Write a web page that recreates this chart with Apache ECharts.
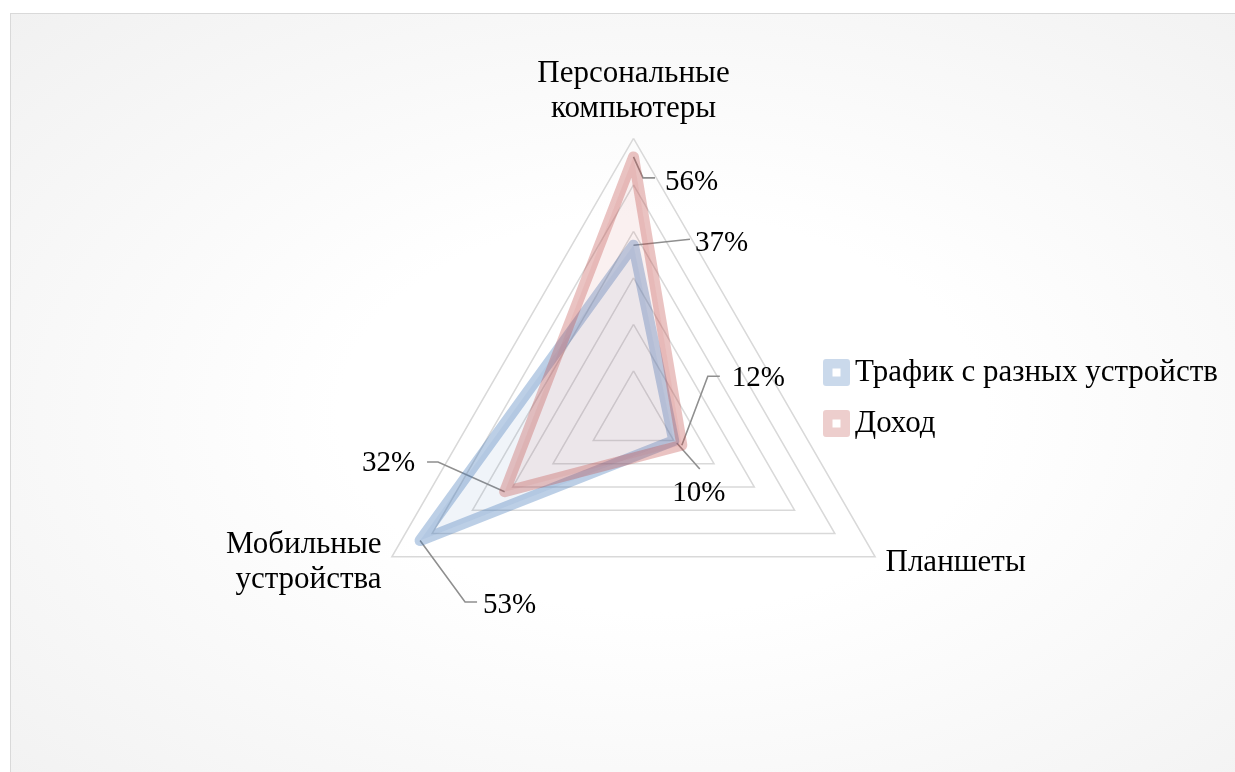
<!DOCTYPE html>
<html>
<head>
<meta charset="utf-8">
<script src="https://cdn.jsdelivr.net/npm/echarts@6/dist/echarts.min.js"></script>
<style>
  html, body { margin: 0; padding: 0; width: 1235px; height: 772px; overflow: hidden; background: #fff; }
  #frame {
    position: absolute; left: 10px; top: 13px; width: 1300px; height: 800px;
    border: 1.5px solid #d9d9d9;
    background: radial-gradient(ellipse at 50% 50%, #ffffff 35%, #f1f1f1 100%);
  }
  #container { position: absolute; left: 0; top: 0; width: 1235px; height: 772px; }
</style>
</head>
<body>
<div id="frame"></div>
<div id="container"></div>
<script>
// indicators in radar order (top, bottom-left, bottom-right)
const indicatorNames = ['Персональные\nкомпьютеры', 'Мобильные\nустройства', 'Планшеты'];
const seriesNames = ['Трафик с разных устройств', 'Доход'];
const traffic = [37, 53, 10];
const income = [56, 32, 12];
const maxValue = 60;

const FONT = '"Liberation Serif", "Times New Roman", serif';

var dom = document.getElementById('container');
var myChart = echarts.init(dom, null, { renderer: 'canvas' });

const iconPath = 'path://M3,0 H24 Q27,0 27,3 V24 Q27,27 24,27 H3 Q0,27 0,24 V3 Q0,0 3,0 Z M9.5,9.5 V17.5 H17.5 V9.5 Z';

var option = {
  animation: false,
  backgroundColor: 'transparent',
  legend: {
    orient: 'vertical',
    left: 818,
    top: 352,
    itemWidth: 27,
    itemHeight: 27,
    itemGap: 20,
    icon: iconPath,
    data: seriesNames,
    textStyle: { fontFamily: FONT, fontSize: 31, lineHeight: 30, color: '#000' }
  },
  radar: {
    center: [633.5, 417.3],
    radius: 279,
    startAngle: 90,
    shape: 'polygon',
    splitNumber: 6,
    nameGap: 12,
    indicator: indicatorNames.map(n => ({ name: n, min: 0, max: maxValue })),
    axisName: { color: '#000', fontFamily: FONT, fontSize: 31, lineHeight: 35 },
    axisLine: { show: false },
    axisTick: { show: false },
    axisLabel: { show: false },
    splitArea: { show: false },
    splitLine: { lineStyle: { color: '#d9d9d9', width: 1.5 } }
  },
  series: [
    {
      type: 'radar',
      symbol: 'none',
      data: [
        {
          name: seriesNames[0],
          value: traffic,
          itemStyle: { color: 'rgba(79,129,189,0.3)' },
          lineStyle: { color: 'rgba(79,129,189,0.38)', width: 11, join: 'round', cap: 'round' },
          areaStyle: { color: 'rgba(79,129,189,0.12)' }
        },
        {
          name: seriesNames[1],
          value: income,
          itemStyle: { color: 'rgba(192,80,77,0.28)' },
          lineStyle: { color: 'rgba(192,80,77,0.34)', width: 11, join: 'round', cap: 'round' },
          areaStyle: { color: 'rgba(192,80,77,0.12)' }
        }
      ]
    }
  ]
};

myChart.setOption(option);

// data labels with leader lines, placed from the radar's own coordinate system
// [seriesIdx, indicatorIdx, leader points offsets, text offset, align]
const labelLayout = [
  [1, 0, [[0, 0], [9.5, 21], [21.5, 21]], [31.5, 25], 'left'],
  [0, 0, [[0, 0], [56.5, -6]], [61.5, -2], 'left'],
  [1, 2, [[0, 0], [26, -69], [38, -69]], [50, -67], 'left'],
  [0, 2, [[3, 2.5], [26, 28.5]], [25, 52.5], 'center'],
  [1, 1, [[0, 0], [-66.6, -29.7], [-77.6, -29.7]], [-89.6, -28.7], 'right'],
  [0, 1, [[0, 0], [45, 61.5], [57, 61.5]], [63, 64.5], 'left']
];

const radarCs = myChart.getModel().getComponent('radar', 0).coordinateSystem;
const allValues = [traffic, income];
const graphics = [];
labelLayout.forEach(function (l) {
  const v = allValues[l[0]][l[1]];
  const p = radarCs.dataToPoint(v, l[1]);
  graphics.push({
    type: 'polyline',
    silent: true,
    shape: { points: l[2].map(o => [p[0] + o[0], p[1] + o[1]]) },
    style: { stroke: '#8f8f8f', lineWidth: 1.6, fill: null }
  });
  graphics.push({
    type: 'text',
    silent: true,
    x: p[0] + l[3][0],
    y: p[1] + l[3][1],
    style: {
      text: v + '%',
      font: '29px ' + FONT,
      fill: '#000',
      align: l[4],
      verticalAlign: 'middle',
      textAlign: l[4],
      textVerticalAlign: 'middle'
    }
  });
});

myChart.setOption({ graphic: graphics });

window.addEventListener('resize', myChart.resize);
</script>
</body>
</html>
